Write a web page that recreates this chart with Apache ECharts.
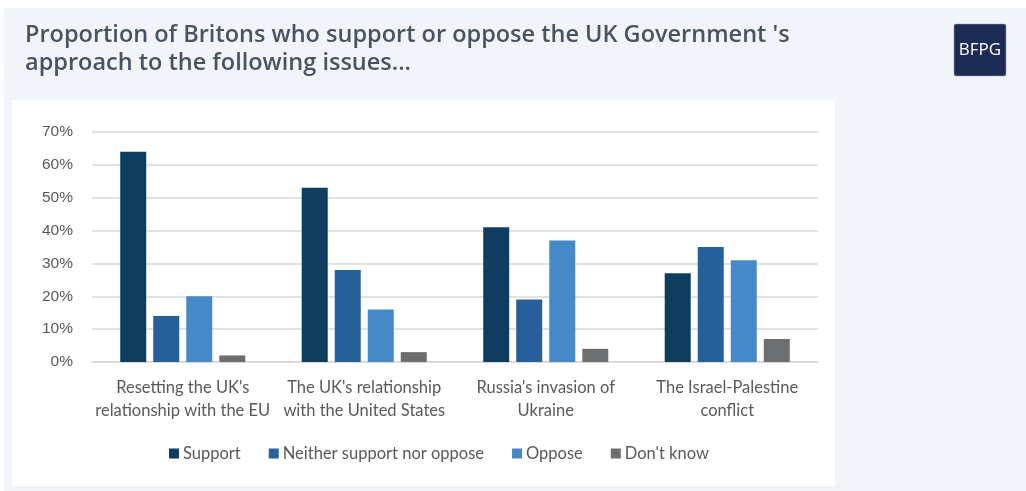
<!DOCTYPE html>
<html>
<head>
<meta charset="utf-8">
<script src="https://cdn.jsdelivr.net/npm/echarts@6/dist/echarts.min.js"></script>
<style>
html,body{margin:0;padding:0;background:#ffffff;}
#main{width:1026px;height:491px;}
</style>
</head>
<body>
<div id="main"></div>
<script>
const categories = [
  "Resetting the UK's\nrelationship with the EU",
  "The UK's relationship\nwith the United States",
  "Russia's invasion of\nUkraine",
  "The Israel-Palestine\nconflict"
];
const seriesNames = ["Support", "Neither support nor oppose", "Oppose", "Don't know"];
const support = [64, 53, 41, 27];
const neither = [14, 28, 19, 35];
const oppose = [20, 16, 37, 31];
const dontKnow = [2, 3, 4, 7];
const yTicks = [0, 10, 20, 30, 40, 50, 60, 70];
const colors = ["#0e3d5f", "#25609a", "#4689c8", "#6d6e70"];

const values = [support, neither, oppose, dontKnow];
const chart = echarts.init(document.getElementById('main'), null, {renderer: 'canvas'});
chart.setOption({
  animation: false,
  graphic: [
    {type: 'rect', z: -10, shape: {x: 4, y: 8, width: 1022, height: 483}, style: {fill: '#f1f5f9'}},
    {type: 'rect', z: -9, shape: {x: 12, y: 100, width: 823, height: 386}, style: {fill: '#ffffff'}},
    {type: 'text', left: 25, top: 21, style: {
      text: "Proportion of Britons who support or oppose the UK Government 's\napproach to the following issues...",
      fill: '#4a5461', font: '600 23.5px "Open Sans"', lineHeight: 28}},
    {type: 'rect', shape: {x: 954, y: 24, width: 52, height: 52, r: 2}, style: {fill: '#1c2c55', stroke: '#9aa3b5', lineWidth: 0.5}},
    {type: 'text', x: 980, y: 50, style: {text: 'BFPG', fill: '#ffffff', font: '500 17px "Open Sans"', textAlign: 'center', textVerticalAlign: 'middle'}}
  ],
  grid: {left: 92, right: 208, top: 132, bottom: 129, containLabel: false},
  legend: {
    left: 164, top: 440,
    icon: 'rect', itemWidth: 10, itemHeight: 10, itemGap: 28,
    textStyle: {color: '#595959', fontSize: 16.5, fontFamily: 'Lato', padding: [0, 0, 0, -1]},
    data: seriesNames
  },
  xAxis: {
    type: 'category', data: categories,
    axisLine: {lineStyle: {color: '#d9d9d9', width: 1.5}},
    axisTick: {show: false},
    axisLabel: {color: '#595959', fontSize: 16.5, fontFamily: 'Lato', lineHeight: 23, margin: 14, interval: 0}
  },
  yAxis: {
    type: 'value', min: 0, max: 70, interval: 10,
    axisLine: {show: false}, axisTick: {show: false},
    axisLabel: {formatter: v => yTicks.includes(v) ? v + '%' : '', color: '#595959', fontSize: 15.5, fontFamily: 'Liberation Sans', margin: 19},
    splitLine: {lineStyle: {color: '#d9d9d9', width: 1.5}}
  },
  series: seriesNames.map((n, i) => ({
    name: n, type: 'bar', data: values[i], barWidth: 26, barGap: '27%',
    itemStyle: {color: colors[i]}
  }))
});
</script>
</body>
</html>
